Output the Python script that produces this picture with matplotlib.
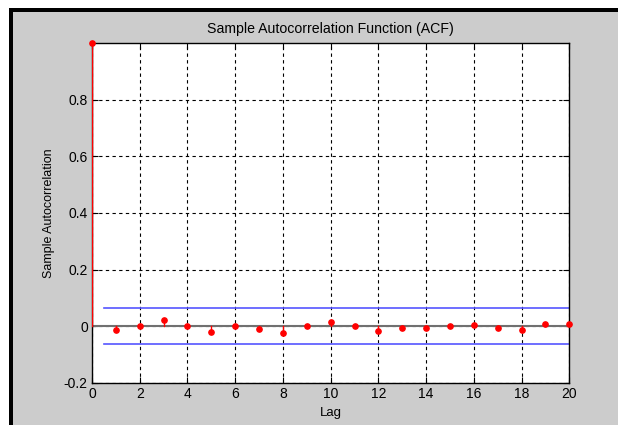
import numpy as np
import matplotlib.pyplot as plt
from matplotlib.patches import Rectangle

# ACF values
lags = list(range(21))
acf_vals = [1.0, -0.012, 0.0, 0.023, 0.0, -0.021, 0.0, -0.011, -0.024, 0.0, 0.014,
            0.0, -0.018, -0.005, -0.005, 0.0, 0.004, -0.005, -0.012, 0.01, 0.007]
bound = 0.064
bound_start = 0.5

xticks = list(range(0, 21, 2))
yticks = [-0.2, 0, 0.2, 0.4, 0.6, 0.8]
ytick_labels = ["-0.2", "0", "0.2", "0.4", "0.6", "0.8"]

plt.rcParams["font.family"] = ["Liberation Sans", "DejaVu Sans"]

fig = plt.figure(figsize=(6.18, 4.25), dpi=100)
fig.patch.set_facecolor("#cccccc")

# window frame: white strip and black edge at top/left
W, H = 618, 425
fig.patches.append(Rectangle((0, (H - 8) / H), 1, 8 / H, transform=fig.transFigure,
                             facecolor="white", edgecolor="none", zorder=0))
fig.patches.append(Rectangle((0, 0), 9 / W, 1, transform=fig.transFigure,
                             facecolor="white", edgecolor="none", zorder=0))
fig.patches.append(Rectangle((9 / W, (H - 12) / H), 1, 4 / H, transform=fig.transFigure,
                             facecolor="black", edgecolor="none", zorder=1))
fig.patches.append(Rectangle((9 / W, 0), 4 / W, (H - 8) / H, transform=fig.transFigure,
                             facecolor="black", edgecolor="none", zorder=1))

ax = fig.add_axes([92 / W, 42 / H, 477.3 / W, 340 / H])
ax.set_facecolor("white")

# zero line
ax.axhline(0, color="#707070", lw=1.5, zorder=2)

# stems
for lag, v in zip(lags, acf_vals):
    ax.plot([lag, lag], [0, v], color="red", lw=1, zorder=3)
ax.plot(lags, acf_vals, "o", color="red", ms=3.8, mec="red", zorder=4, clip_on=False)

# confidence bounds
ax.plot([bound_start, 20], [bound, bound], color="#5555ff", lw=1.2, zorder=2)
ax.plot([bound_start, 20], [-bound, -bound], color="#5555ff", lw=1.2, zorder=2)

ax.set_xlim(0, 20)
ax.set_ylim(-0.2, 1.0)
ax.set_xticks(xticks)
ax.set_yticks(yticks)
ax.set_yticklabels(ytick_labels)
ax.grid(True, color="black", linestyle=(0, (3, 3)), lw=0.8)
ax.set_axisbelow(True)
ax.tick_params(direction="in", length=4, top=True, right=True, labelsize=10,
               colors="black", pad=3)
for s in ax.spines.values():
    s.set_linewidth(1)
    s.set_color("black")

ax.set_title("Sample Autocorrelation Function (ACF)", fontsize=10.2, pad=7)
ax.set_xlabel("Lag", fontsize=9.5, labelpad=4)
ax.set_ylabel("Sample Autocorrelation", fontsize=9, labelpad=6)

fig.savefig("out.png", dpi=100, facecolor=fig.get_facecolor())
